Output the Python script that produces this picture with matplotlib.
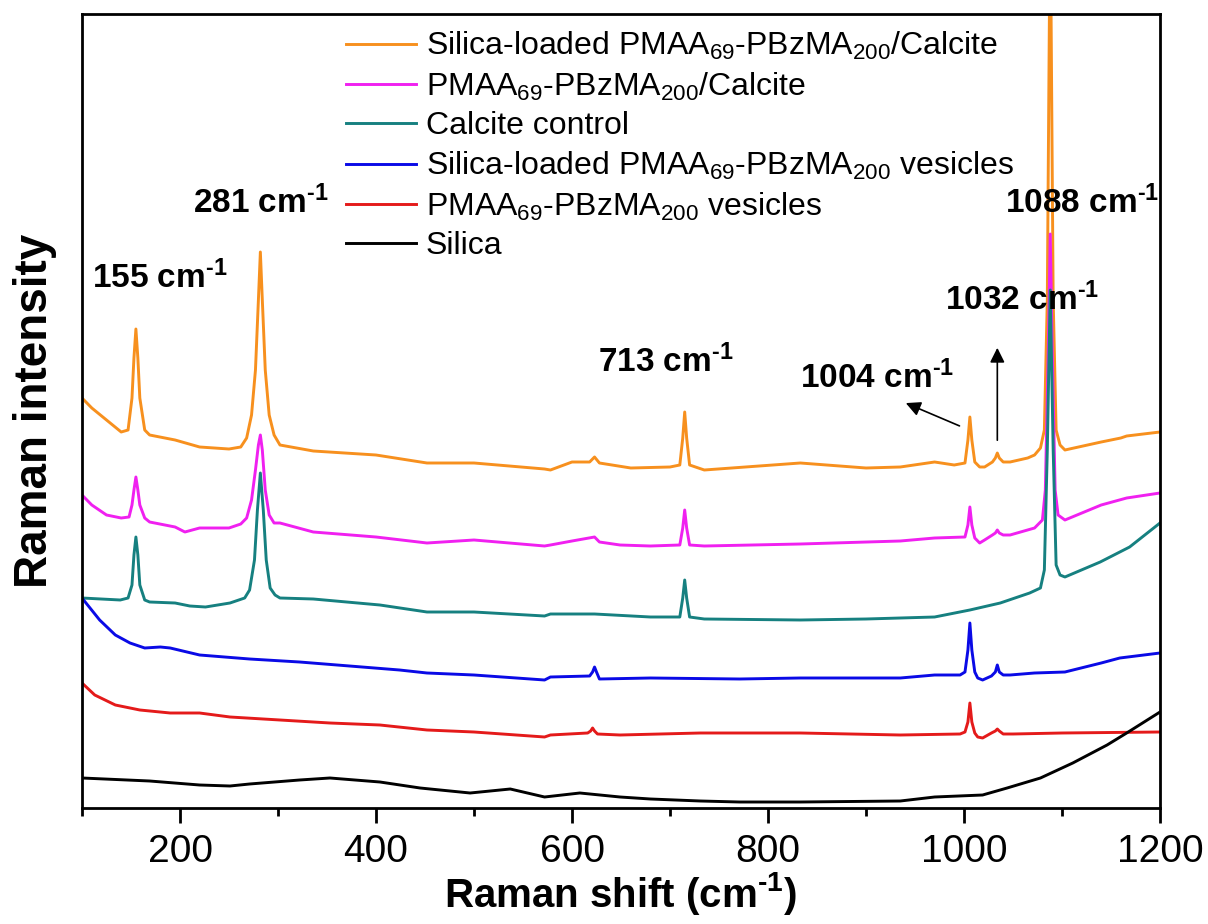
import matplotlib
matplotlib.use("Agg")
import matplotlib.pyplot as plt
from matplotlib.ticker import MultipleLocator

plt.rcParams['font.family'] = ['Liberation Sans', 'DejaVu Sans']
plt.rcParams['mathtext.fontset'] = 'custom'
plt.rcParams['mathtext.rm'] = 'Liberation Sans'
plt.rcParams['mathtext.it'] = 'Liberation Sans:italic'
plt.rcParams['mathtext.bf'] = 'Liberation Sans:bold'

# Raman spectra (intensity in arbitrary units, stacked offsets)
calcite_silica_ves_x = [100, 110, 125, 140, 147, 151, 153, 155, 157, 159, 164, 169, 195, 220, 250, 262, 268, 273,
                        277, 280, 282, 284, 287, 291, 296, 302, 336, 400, 452, 500, 572, 578, 600, 618, 623, 628,
                        660, 700, 710, 713, 715, 717, 720, 735, 833, 900, 935, 970, 990, 1001, 1004, 1006, 1008,
                        1011, 1016, 1021, 1029, 1032, 1034, 1036, 1040, 1047, 1065, 1072, 1078, 1082, 1085, 1088,
                        1091, 1094, 1098, 1103, 1140, 1160, 1166, 1200]
calcite_silica_ves_y = [410, 400, 388, 376, 378, 410, 450, 479, 450, 410, 378, 373, 368, 361, 359, 361, 370, 393,
                        438, 508, 556, 508, 438, 393, 373, 363, 357, 353, 345, 345, 339, 338, 346, 346, 351, 345,
                        340, 341, 343, 370, 396, 370, 343, 338, 345, 340, 341, 346, 343, 345, 368, 391, 368,
                        346, 341, 341, 346, 350, 355, 350, 346, 346, 350, 353, 360, 378, 508, 908,
                        508, 378, 363, 358, 366, 370, 372, 376]

calcite_ves_x = [100, 110, 125, 140, 148, 151, 153, 155, 157, 159, 164, 169, 195, 205, 220, 250, 262, 268, 273,
                 277, 280, 282, 284, 287, 291, 296, 302, 336, 400, 452, 500, 572, 578, 600, 623, 628, 649, 680,
                 710, 713, 715, 717, 720, 735, 833, 935, 970, 1001, 1004, 1006, 1008, 1011, 1016, 1021, 1029,
                 1032, 1034, 1036, 1040, 1047, 1072, 1080, 1083, 1086, 1088, 1090, 1093, 1096, 1103, 1140,
                 1166, 1200]
calcite_ves_y = [313, 303, 293, 290, 291, 303, 318, 331, 318, 303, 290, 286, 281, 276, 280, 280, 284, 290, 308,
                 338, 363, 373, 358, 318, 293, 285, 285, 276, 271, 265, 268, 262, 263, 267, 271, 266, 263, 262,
                 263, 280, 298, 280, 263, 262, 264, 267, 270, 271, 283, 301, 283, 270, 265, 268, 273,
                 275, 278, 275, 273, 273, 280, 288, 318, 458, 574, 458, 318, 293, 288, 303,
                 310, 315]

calcite_x = [100, 139, 147, 151, 153, 155, 157, 159, 164, 169, 195, 210, 226, 251, 266, 271, 276, 279, 282, 285,
             288, 292, 297, 302, 336, 404, 452, 500, 572, 578, 623, 680, 710, 713, 715, 717, 720, 735, 833, 900,
             935, 970, 1006, 1037, 1067, 1078, 1082, 1085, 1088, 1091, 1094, 1098, 1103, 1139, 1169, 1200]
calcite_y = [210, 208, 210, 223, 253, 271, 253, 223, 208, 206, 205, 202, 201, 205, 210, 218, 248, 298, 335, 298,
             248, 220, 213, 210, 209, 203, 196, 196, 192, 194, 194, 191, 191, 210, 228, 210, 191, 189, 188, 189,
             190, 191, 198, 205, 215, 220, 238, 358, 518, 358, 243, 233, 231, 246, 261, 285]

silica_ves_x = [100, 118, 134, 149, 164, 180, 190, 220, 271, 322, 373, 424, 452, 500, 572, 578, 618, 621, 623,
                625, 628, 680, 771, 833, 935, 970, 996, 1001, 1004, 1006, 1008, 1011, 1014, 1019, 1028, 1032,
                1034, 1036, 1040, 1047, 1072, 1103, 1140, 1159, 1200]
silica_ves_y = [210, 188, 173, 165, 160, 161, 160, 153, 149, 146, 142, 138, 135, 133, 128, 131, 132, 136, 141,
                136, 129, 130, 129, 130, 130, 133, 133, 136, 158, 185, 158, 136, 130, 128, 132, 136,
                143, 136, 133, 133, 135, 136, 145, 150, 155]

ves_x = [100, 113, 134, 159, 190, 220, 251, 302, 353, 404, 452, 500, 572, 578, 616, 619, 621, 623, 626, 649,
         731, 833, 935, 996, 1001, 1004, 1006, 1008, 1011, 1014, 1019, 1028, 1032, 1034, 1036, 1040, 1050,
         1100, 1200]
ves_y = [125, 113, 103, 98, 95, 95, 91, 88, 85, 83, 78, 76, 71, 73, 75, 77, 80, 77, 74, 73,
         75, 75, 73, 74, 76, 86, 105, 86, 75, 71, 70, 75, 77, 79, 77, 74, 74,
         75, 76]

silica_x = [100, 169, 220, 251, 271, 322, 353, 404, 445, 496, 537, 572, 608, 649, 680, 731, 771, 833, 935, 970,
            1019, 1044, 1078, 1111, 1146, 1166, 1200]
silica_y = [30, 27, 23, 22, 24, 28, 30, 26, 20, 15, 19, 11, 15, 11, 9, 7, 6, 6, 7, 11,
            13, 20, 30, 45, 63, 75, 96]

labels = ["Silica-loaded PMAA$_{69}$-PBzMA$_{200}$/Calcite",
          "PMAA$_{69}$-PBzMA$_{200}$/Calcite",
          "Calcite control",
          "Silica-loaded PMAA$_{69}$-PBzMA$_{200}$ vesicles",
          "PMAA$_{69}$-PBzMA$_{200}$ vesicles",
          "Silica"]
colors = ['#F7901E', '#F020F0', '#168080', '#0A0AE6', '#E41A1A', '#000000']

# peak labels: text, x, y
peak_labels = [("155", 110, 520), ("281", 213, 595), ("713", 627, 436),
               ("1004", 833, 420), ("1032", 981, 498), ("1088", 1042, 595)]

SUP = "$^{\\mathbf{\u2010}\\mathbf{1}}$"

fig = plt.figure(figsize=(12.08, 9.24), dpi=100)
ax = fig.add_axes([82 / 1208, 1 - 808 / 924, 1078 / 1208, 794 / 924])

series = [(calcite_silica_ves_x, calcite_silica_ves_y), (calcite_ves_x, calcite_ves_y),
          (calcite_x, calcite_y), (silica_ves_x, silica_ves_y), (ves_x, ves_y), (silica_x, silica_y)]
for (xs, ys), lab, c in zip(series, labels, colors):
    ax.plot(xs, ys, color=c, lw=2.1, label=lab)

ax.set_xlim(100, 1200)
ax.set_ylim(0, 794)
ax.set_yticks([])
ax.xaxis.set_major_locator(MultipleLocator(200))
ax.xaxis.set_minor_locator(MultipleLocator(100))
ax.tick_params(axis='x', which='major', direction='out', length=11, width=2, pad=8, labelsize=28)
ax.tick_params(axis='x', which='minor', direction='out', length=6, width=2)
for sp in ax.spines.values():
    sp.set_linewidth(2)

ax.set_xlabel("Raman shift (cm" + SUP + ")", fontsize=29, fontweight='bold', labelpad=0)
ax.set_ylabel("Raman intensity", fontsize=33, fontweight='bold', labelpad=18)

for txt, x, y in peak_labels:
    ax.text(x, y, txt + " cm" + SUP, fontsize=24, fontweight='bold', ha='left', va='baseline')

ax.annotate("", xy=(938, 406), xytext=(998, 381),
            arrowprops=dict(arrowstyle='-|>', color='black', lw=1.2, mutation_scale=22))
ax.annotate("", xy=(1034, 463), xytext=(1034, 365),
            arrowprops=dict(arrowstyle='-|>', color='black', lw=1.2, mutation_scale=22))

ax.legend(loc='upper left', bbox_to_anchor=(0.245, 0.98), frameon=False, fontsize=23,
          handlelength=2.2, handletextpad=0.3, labelspacing=0.27, borderpad=0, borderaxespad=0)

fig.savefig("out.png", dpi=100)
